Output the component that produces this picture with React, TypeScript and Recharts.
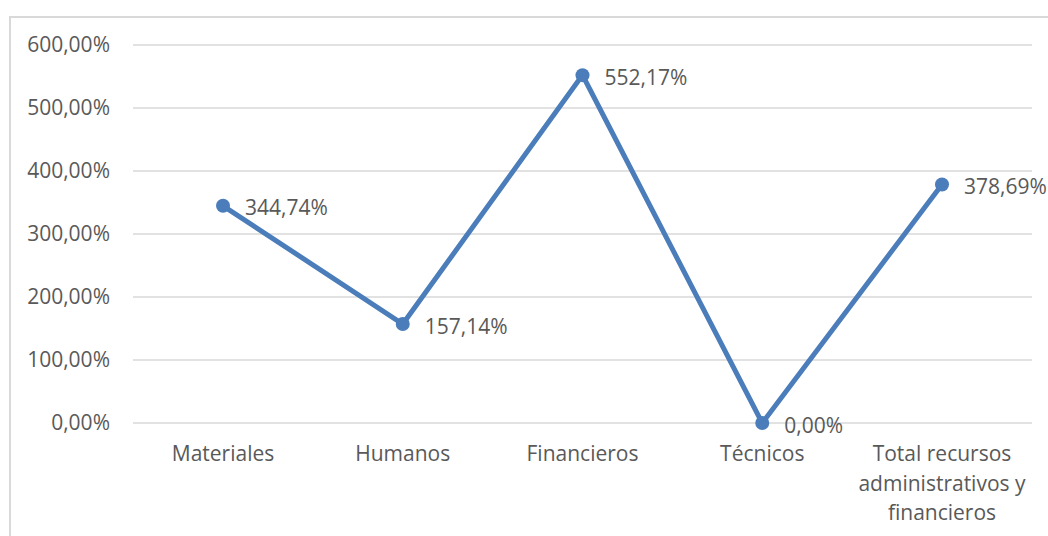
import React from "react";
import { LineChart, Line, XAxis, YAxis, CartesianGrid, LabelList } from "recharts";

const categories = [
  "Materiales",
  "Humanos",
  "Financieros",
  "Técnicos",
  "Total recursos administrativos y financieros",
];
const values = [344.74, 157.14, 552.17, 0, 378.69];
const yTicks = [0, 100, 200, 300, 400, 500, 600];

const data = categories.map((name, i) => ({ name, value: values[i] }));

const TEXT = "#595959";
const GRID = "#d9d9d9";
const BLUE = "#4a7dba";
const FONT = "'Open Sans', sans-serif";
const FONT_SIZE = 21;

const fmt = (v: number) => v.toFixed(2).replace(".", ",") + "%";

// split long category names into lines of ~18 chars
function wrap(label: string, max = 18) {
  const lines: string[] = [];
  let cur = "";
  for (const w of label.split(" ")) {
    const next = cur ? cur + " " + w : w;
    if (next.length > max && cur) {
      lines.push(cur);
      cur = w;
    } else {
      cur = next;
    }
  }
  if (cur) lines.push(cur);
  return lines;
}

const CategoryTick = ({ x, y, payload }: any) => {
  const lines = wrap(String(payload.value));
  return (
    <text x={x} y={y} textAnchor="middle" fill={TEXT} fontSize={FONT_SIZE} fontFamily={FONT}>
      {lines.map((l, i) => (
        <tspan key={i} x={x} dy={i === 0 ? 32 : 29.5}>
          {l}
        </tspan>
      ))}
    </text>
  );
};

const PointLabel = ({ x, y, value }: any) => (
  <text x={x + 22} y={y + 9.5} fill={TEXT} fontSize={FONT_SIZE} fontFamily={FONT}>
    {fmt(Number(value))}
  </text>
);

export default function App() {
  return (
    <div style={{ position: "relative", width: 1048, height: 536, overflow: "hidden", background: "#fff" }}>
      <style>{`body{margin:0;overflow:hidden}`}</style>
      {/* chart frame: only left and top edges are visible */}
      <div
        style={{
          position: "absolute",
          left: 9,
          top: 16,
          width: 1060,
          height: 540,
          borderLeft: `2px solid ${GRID}`,
          borderTop: `2px solid ${GRID}`,
          boxSizing: "border-box",
        }}
      />
      <div style={{ position: "absolute", left: 0, top: 0 }}>
        <LineChart
          width={1048}
          height={536}
          data={data}
          margin={{ top: 45, right: 16, bottom: 13, left: 0 }}
        >
          <CartesianGrid vertical={false} stroke={GRID} strokeWidth={1.5} />
          <XAxis
            dataKey="name"
            axisLine={false}
            tickLine={false}
            tickMargin={0}
            height={100}
            padding={{ left: 90, right: 90 }}
            interval={0}
            tick={<CategoryTick />}
          />
          <YAxis
            domain={[0, 600]}
            ticks={yTicks}
            width={133}
            axisLine={false}
            tickLine={false}
            tickMargin={17}
            tickFormatter={fmt}
            tick={{ fill: TEXT, fontSize: FONT_SIZE, fontFamily: FONT }}
          />
          <Line
            type="linear"
            dataKey="value"
            stroke={BLUE}
            strokeWidth={5}
            dot={{ r: 7, fill: BLUE, stroke: BLUE, strokeWidth: 0 }}
            activeDot={false}
            isAnimationActive={false}
          >
            <LabelList dataKey="value" content={<PointLabel />} />
          </Line>
        </LineChart>
      </div>
    </div>
  );
}
